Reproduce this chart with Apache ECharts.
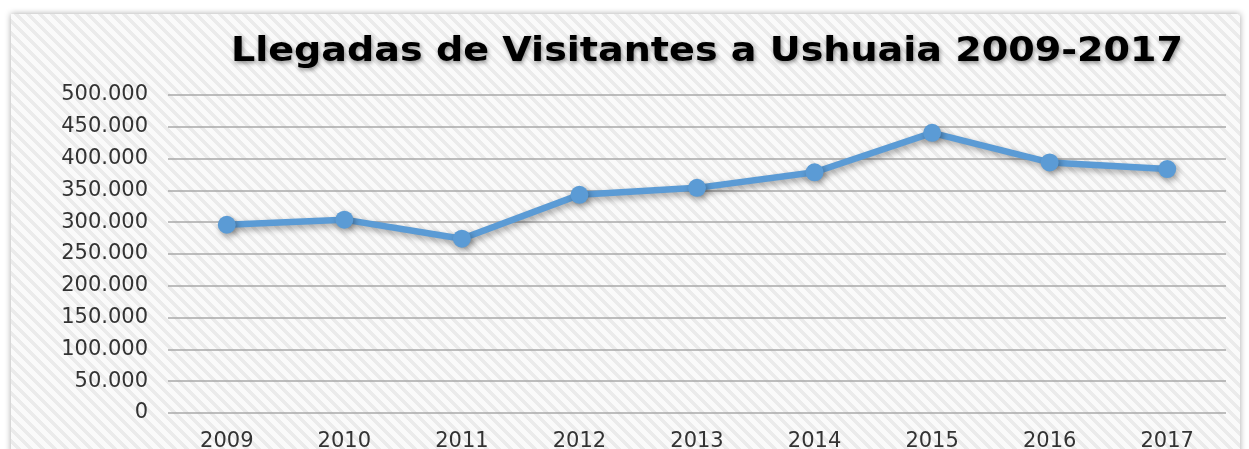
<!DOCTYPE html>
<html><head><meta charset="utf-8">
<script src="https://cdn.jsdelivr.net/npm/echarts@6/dist/echarts.min.js"></script>
<style>html,body{margin:0;padding:0;background:#fff;overflow:hidden;width:1249px;height:449px}#c{position:absolute;left:0;top:0;width:1249px;height:449px}</style>
</head><body><div id="c"></div>
<script>
const titleText = 'Llegadas de Visitantes a Ushuaia 2009-2017';
const categories = ['2009','2010','2011','2012','2013','2014','2015','2016','2017'];
const visitors = [296000, 304000, 274000, 343000, 354000, 378500, 440500, 394000, 383500];
const yMin = 0, yMax = 500000, yStep = 50000;

function fmt(v){ return String(v).replace(/\B(?=(\d{3})+(?!\d))/g, '.'); }

// striped tile
const tile = document.createElement('canvas');
tile.width = 12; tile.height = 12;
const tctx = tile.getContext('2d');
const img = tctx.createImageData(12,12);
for (let y=0;y<12;y++) for (let x=0;x<12;x++){
  const d = ((x - y) % 12 + 12) % 12;
  const g = d < 5 ? 235 : 250;
  const i = (y*12+x)*4;
  img.data[i]=g; img.data[i+1]=g; img.data[i+2]=g; img.data[i+3]=255;
}
tctx.putImageData(img,0,0);

const labelFont = '"DejaVu Sans", sans-serif';

const chart = echarts.init(document.getElementById('c'), null, {renderer:'canvas', width:1249, height:449});
chart.setOption({
  backgroundColor: '#ffffff',
  animation: false,
  graphic: [
    { type:'rect', z:-10, shape:{x:11,y:14,width:1229,height:440},
      style:{ fill:{image: tile, repeat:'repeat'}, shadowBlur:6, shadowColor:'rgba(0,0,0,0.35)', shadowOffsetX:0, shadowOffsetY:0 } },
    { type:'text', z:10, x:707, y:52, scaleX:1.12, scaleY:1,
      style:{ text: titleText, font:'bold 34px "DejaVu Sans"', fill:'#000', align:'center', verticalAlign:'middle',
        textShadowColor:'rgba(0,0,0,0.45)', textShadowBlur:4, textShadowOffsetX:1, textShadowOffsetY:2 } }
  ],
  grid: { left:168, right:23, top:95, bottom:36, containLabel:false, outerBoundsMode:'none' },
  xAxis: {
    type:'category', data: categories, boundaryGap:true,
    axisLine:{show:false}, axisTick:{show:false},
    axisLabel:{ color:'#333', fontFamily:labelFont, fontSize:21, margin:18 }
  },
  yAxis: {
    type:'value', min:yMin, max:yMax, interval:yStep,
    axisLine:{show:false}, axisTick:{show:false},
    axisLabel:{ color:'#333', fontFamily:labelFont, fontSize:21, margin:20, formatter: fmt },
    splitLine:{ lineStyle:{ color:'#a8a8a8', width:1.5 } }
  },
  series: [{
    type:'line', data: visitors,
    symbol:'circle', symbolSize:18,
    lineStyle:{ color:'#5b9bd5', width:6.5, shadowColor:'rgba(0,0,0,0.35)', shadowBlur:6, shadowOffsetX:2, shadowOffsetY:3 },
    itemStyle:{ color:'#5b9bd5', shadowColor:'rgba(0,0,0,0.35)', shadowBlur:6, shadowOffsetX:2, shadowOffsetY:3 }
  }]
});
</script></body></html>
